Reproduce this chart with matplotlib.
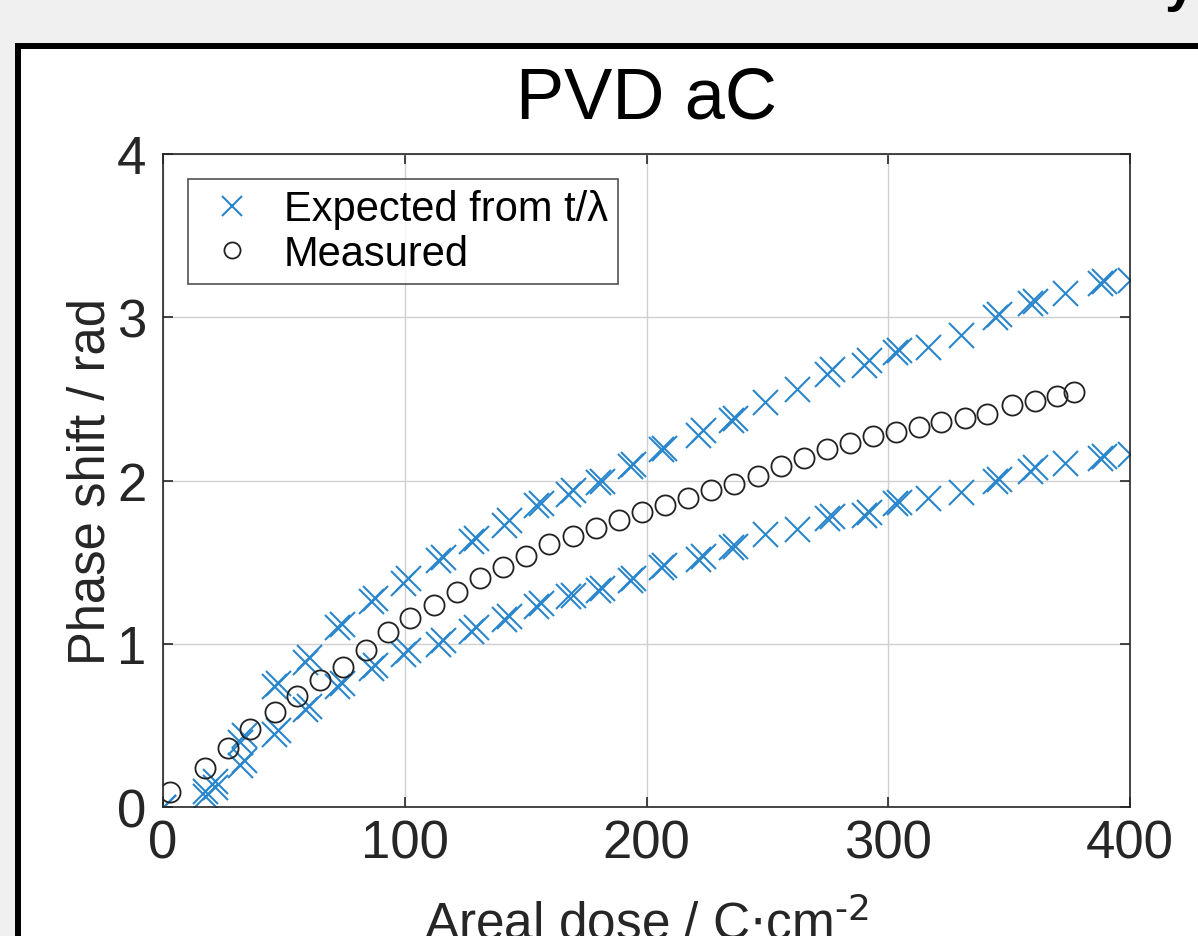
import numpy as np
import matplotlib.pyplot as plt
from matplotlib.patches import Rectangle

plt.rcParams['font.family'] = ['Liberation Sans', 'DejaVu Sans']

# Measured phase shift
dose_meas = [2.9, 17.4, 26.9, 36.0, 46.3, 55.4, 64.9, 74.5, 84.0, 93.0,
             102.0, 112.0, 121.6, 131.0, 140.6, 150.0, 159.7, 169.6, 179.0, 188.6,
             198.0, 207.6, 217.0, 226.7, 236.0, 246.0, 255.6, 265.0, 274.7, 284.0,
             293.7, 303.0, 312.7, 322.0, 331.7, 341.0, 351.0, 360.7, 369.8, 376.8]
phase_meas = [0.09, 0.24, 0.36, 0.48, 0.58, 0.68, 0.78, 0.86, 0.96, 1.07,
              1.16, 1.24, 1.32, 1.40, 1.47, 1.54, 1.61, 1.66, 1.71, 1.76,
              1.81, 1.85, 1.89, 1.94, 1.98, 2.03, 2.09, 2.14, 2.19, 2.23,
              2.27, 2.30, 2.33, 2.36, 2.38, 2.41, 2.46, 2.49, 2.52, 2.54]

# Expected from t/lambda, first set (upper and lower bound)
dose_exp_a = [0.0, 17.4, 31.9, 45.9, 58.7, 72.0, 86.0, 99.3, 113.8, 127.5,
              141.1, 154.3, 167.6, 179.9, 193.2, 206.0, 221.3, 235.0, 249.0, 262.3,
              274.7, 289.9, 302.8, 316.4, 330.1, 344.2, 358.6, 373.1, 387.6, 400.0]
upper_a = [0.0, 0.10, 0.40, 0.74, 0.89, 1.10, 1.26, 1.37, 1.51, 1.63,
           1.73, 1.85, 1.92, 1.99, 2.09, 2.19, 2.28, 2.37, 2.48, 2.56,
           2.65, 2.71, 2.79, 2.82, 2.89, 3.00, 3.09, 3.15, 3.21, 3.23]
lower_a = [0.0, 0.07, 0.26, 0.45, 0.60, 0.74, 0.85, 0.94, 1.00, 1.08,
           1.15, 1.23, 1.29, 1.33, 1.39, 1.47, 1.52, 1.59, 1.67, 1.70,
           1.77, 1.79, 1.86, 1.89, 1.93, 2.00, 2.06, 2.11, 2.14, 2.16]

# second set (slightly shifted doses)
dose_exp_b = [21.5, 33.5, 47.7, 60.5, 74.0, 87.5, 101.2, 115.8, 129.4, 143.0,
              156.4, 169.6, 181.4, 194.5, 207.4, 223.3, 236.5, 276.8, 291.9, 304.4,
              345.8, 360.6, 389.3]
upper_b = [0.16, 0.44, 0.76, 0.92, 1.12, 1.28, 1.40, 1.53, 1.65, 1.76,
           1.86, 1.94, 2.00, 2.10, 2.20, 2.31, 2.38, 2.68, 2.74, 2.80,
           3.02, 3.10, 3.22]
lower_b = [0.12, 0.29, 0.47, 0.62, 0.76, 0.87, 0.96, 1.02, 1.10, 1.17,
           1.25, 1.30, 1.34, 1.40, 1.48, 1.54, 1.60, 1.78, 1.81, 1.87,
           2.01, 2.08, 2.15]

W, H = 1198, 937
fig = plt.figure(figsize=(W / 100, H / 100), dpi=100, facecolor='#f0f0f0')

# white panel with thick black frame, behind the axes
fig.patches.append(Rectangle((18 / W, -0.2), 2.0, (H - 47) / H + 0.2,
                             transform=fig.transFigure, facecolor='white',
                             edgecolor='black', linewidth=4.3, zorder=-10))
fig.text(1165 / W, 1.0, 'y', fontsize=40, fontweight='bold', va='baseline')

ax = fig.add_axes([163 / W, 129 / H, (1130 - 163) / W, (808 - 155) / H])
ax.set_facecolor('white')

blue = '#2a86cc'
ax.plot(dose_exp_a, upper_a, 'x', color=blue, ms=18, mew=1.5,
        label='Expected from t/\u03bb')
ax.plot(dose_exp_a, lower_a, 'x', color=blue, ms=18, mew=1.5)
ax.plot(dose_exp_b, upper_b, 'x', color=blue, ms=18, mew=1.5)
ax.plot(dose_exp_b, lower_b, 'x', color=blue, ms=18, mew=1.5)
ax.plot(dose_meas, phase_meas, 'o', color='#222222', mfc='none', ms=14.5,
        mew=1.3, label='Measured')

ax.set_xlim(0, 400)
ax.set_ylim(0, 4)
ax.set_xticks([0, 100, 200, 300, 400])
ax.set_yticks([0, 1, 2, 3, 4])
ax.grid(True, color='#d0d0d0', linewidth=1.0)
ax.set_axisbelow(True)
for s in ax.spines.values():
    s.set_color('#262626')
    s.set_linewidth(1.2)
ax.tick_params(direction='in', length=7, width=1.2, colors='#262626',
               labelsize=38, top=True, right=True)
ax.tick_params(axis='x', pad=8)
ax.tick_params(axis='y', pad=12)

ax.set_title('PVD aC', fontsize=52, pad=26)
ax.set_ylabel('Phase shift / rad', fontsize=36.5, color='#262626', labelpad=1)
ax.set_xlabel(r'Areal dose / C$\cdot$cm$^{\text{-}2}$', fontsize=37,
              color='#262626', labelpad=22)

leg = ax.legend(loc='upper left', fontsize=30, frameon=True, fancybox=False,
                edgecolor='#262626', borderaxespad=0.6, handletextpad=0.45,
                borderpad=0.25, labelspacing=0.1, handlelength=1.6,
                markerscale=0.8)
leg.get_frame().set_linewidth(1.2)

fig.savefig('out.png', dpi=100, facecolor=fig.get_facecolor())
